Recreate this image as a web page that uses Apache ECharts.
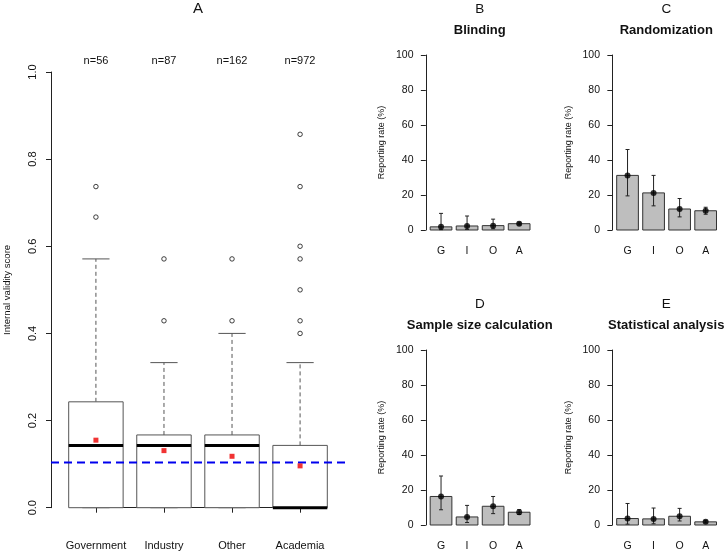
<!DOCTYPE html>
<html>
<head>
<meta charset="utf-8">
<script src="https://cdn.jsdelivr.net/npm/echarts@6/dist/echarts.min.js"></script>
<style>
  html, body { margin: 0; padding: 0; background: #fff; }
  #chart { width: 727px; height: 553px; }
</style>
</head>
<body>
<div id="chart"></div>
<script>
// panel A: internal validity score by funder
const groupsA = ["Government", "Industry", "Other", "Academia"];
const nCounts = [56, 87, 162, 972];
const boxMin = [0, 0, 0, 0];
const boxQ1 = [0, 0, 0, 0];
const boxMed = [0.143, 0.143, 0.143, 0];
const boxQ3 = [0.243, 0.167, 0.167, 0.143];
const boxMax = [0.571, 0.333, 0.4, 0.333];
const meanScore = [0.155, 0.131, 0.118, 0.096];
const outGov = [0.667, 0.737];
const outInd = [0.429, 0.571];
const outOth = [0.429, 0.571];
const outAca = [0.4, 0.429, 0.5, 0.571, 0.6, 0.737, 0.857];
const refLine = 0.104;

// panels B-E: reporting rates (%) with confidence intervals
const barCats = ["G", "I", "O", "A"];
const blindRate = [1.8, 2.3, 2.5, 3.6];
const blindLo = [0.2, 0.3, 0.7, 2.9];
const blindHi = [9.5, 8.0, 6.2, 4.5];
const randRate = [31.2, 21.2, 12.0, 11.0];
const randLo = [19.5, 13.8, 7.5, 9.0];
const randHi = [46.0, 31.2, 18.0, 13.0];
const sampleRate = [16.3, 4.6, 10.7, 7.3];
const sampleLo = [8.7, 1.4, 6.5, 6.0];
const sampleHi = [28.0, 11.2, 16.3, 8.8];
const statRate = [3.7, 3.5, 5.0, 1.8];
const statLo = [0.5, 0.7, 2.3, 1.2];
const statHi = [12.3, 9.7, 9.5, 2.7];

const FONT = "Liberation Sans";
const INK = "#111";

const xlimA = [0.34, 4.66];
const barPos = [0.7, 1.9, 3.1, 4.3];
const xlimBar = [-0.016, 4.984];

const boxData = groupsA.map((_, i) => [i + 1, boxMin[i], boxQ1[i], boxMed[i], boxQ3[i], boxMax[i]]);
const outlierData = [outGov, outInd, outOth, outAca].flatMap((vals, i) => vals.map((v) => [i + 1, v]));
const meanData = meanScore.map((v, i) => [i + 1, v]);

function renderBox(params, api) {
  const x = api.value(0);
  const lo = api.value(1), q1 = api.value(2), med = api.value(3), q3 = api.value(4), hi = api.value(5);
  const half = 0.4, cap = 0.2;
  const pt = (a, b) => api.coord([a, b]);
  const grey = "#555";
  const a = pt(x - half, q3), b = pt(x + half, q1);
  return {
    type: "group",
    children: [
      { type: "line", shape: { x1: pt(x, q3)[0], y1: pt(x, q3)[1], x2: pt(x, hi)[0], y2: pt(x, hi)[1] },
        style: { stroke: grey, lineWidth: 1, lineDash: [4, 3] } },
      { type: "line", shape: { x1: pt(x, lo)[0], y1: pt(x, lo)[1], x2: pt(x, q1)[0], y2: pt(x, q1)[1] },
        style: { stroke: grey, lineWidth: 1, lineDash: [4, 3] } },
      { type: "line", shape: { x1: pt(x - cap, hi)[0], y1: pt(x, hi)[1], x2: pt(x + cap, hi)[0], y2: pt(x, hi)[1] },
        style: { stroke: grey, lineWidth: 1 } },
      { type: "line", shape: { x1: pt(x - cap, lo)[0], y1: pt(x, lo)[1], x2: pt(x + cap, lo)[0], y2: pt(x, lo)[1] },
        style: { stroke: grey, lineWidth: 1 } },
      { type: "rect", shape: { x: a[0], y: a[1], width: b[0] - a[0], height: b[1] - a[1] },
        style: { fill: "#fff", stroke: grey, lineWidth: 1 } },
      { type: "line", shape: { x1: a[0], y1: pt(x, med)[1], x2: b[0], y2: pt(x, med)[1] },
        style: { stroke: "#000", lineWidth: 3 } },
    ],
  };
}

function renderBar(params, api) {
  const x = api.value(0), v = api.value(1);
  const p0 = api.coord([x - 0.5, v]);
  const p1 = api.coord([x + 0.5, 0]);
  return {
    type: "rect",
    shape: { x: p0[0], y: p0[1], width: p1[0] - p0[0], height: p1[1] - p0[1] },
    style: { fill: "#bebebe", stroke: "#333", lineWidth: 1 },
  };
}

function renderErr(params, api) {
  const x = api.value(0);
  const lo = api.coord([x, api.value(1)]);
  const hi = api.coord([x, api.value(2)]);
  const c = 2;
  const st = { stroke: "#222", lineWidth: 1 };
  return {
    type: "group",
    children: [
      { type: "line", shape: { x1: lo[0], y1: lo[1], x2: hi[0], y2: hi[1] }, style: st },
      { type: "line", shape: { x1: lo[0] - c, y1: lo[1], x2: lo[0] + c, y2: lo[1] }, style: st },
      { type: "line", shape: { x1: hi[0] - c, y1: hi[1], x2: hi[0] + c, y2: hi[1] }, style: st },
    ],
  };
}

const grids = [
  { left: 51, top: 72, width: 294, height: 435.7 },   // A data
  { left: 96, top: 72, width: 204, height: 435.7 },   // A category axis
];
const xAxes = [
  { gridIndex: 0, type: "value", min: xlimA[0], max: xlimA[1], show: false },
  {
    gridIndex: 1, type: "value", min: 1, max: 4, interval: 1, position: "bottom", offset: 18,
    axisLine: { show: true, lineStyle: { color: "#222", width: 1 } },
    axisTick: { show: true, length: 5, lineStyle: { color: "#222" } },
    axisLabel: { margin: 15, color: INK, fontFamily: FONT, fontSize: 11, formatter: (v) => groupsA[v - 1] || "" },
    splitLine: { show: false },
  },
  {
    gridIndex: 1, type: "value", min: 1, max: 4, interval: 1, position: "top",
    axisLine: { show: false }, axisTick: { show: false }, splitLine: { show: false },
    axisLabel: { margin: 5.5, color: INK, fontFamily: FONT, fontSize: 11, formatter: (v) => "n=" + nCounts[v - 1] },
  },
];
const yAxes = [
  {
    gridIndex: 0, type: "value", min: 0, max: 1, interval: 0.2,
    axisLine: { show: true, lineStyle: { color: "#222", width: 1 } },
    axisTick: { show: true, length: 5, lineStyle: { color: "#222" } },
    axisLabel: { rotate: 90, margin: 13, color: INK, fontFamily: FONT, fontSize: 11, formatter: (v) => v.toFixed(1) },
    splitLine: { show: false },
    name: "Internal validity score", nameLocation: "middle", nameGap: 39,
    nameTextStyle: { color: INK, fontFamily: FONT, fontSize: 9.6 },
  },
  { gridIndex: 1, type: "value", min: 0, max: 1, show: false },
];

const series = [
  {
    type: "custom", xAxisIndex: 0, yAxisIndex: 0, renderItem: renderBox, data: boxData,
    encode: { x: 0, y: [1, 2, 3, 4, 5] }, z: 2, silent: true,
  },
  {
    type: "line", xAxisIndex: 0, yAxisIndex: 0, data: [[xlimA[0], refLine], [xlimA[1], refLine]],
    symbol: "none", lineStyle: { color: "#0000ee", width: 2, type: [8, 5] }, z: 3, silent: true,
  },
  {
    type: "scatter", xAxisIndex: 0, yAxisIndex: 0, data: outlierData, symbol: "circle", symbolSize: 4.5,
    itemStyle: { color: "#fff", borderColor: "#111", borderWidth: 1 }, z: 4, silent: true,
  },
  {
    type: "scatter", xAxisIndex: 0, yAxisIndex: 0, data: meanData, symbol: "rect", symbolSize: 5,
    itemStyle: { color: "#ee0000" }, z: 5, silent: true,
  },
];

const titles = [
  { text: "A", left: 198, top: 1, textAlign: "center", padding: 0,
    textStyle: { fontFamily: FONT, fontSize: 15, fontWeight: "normal", color: INK } },
];

const panels = [
  { letter: "B", name: "Blinding", left: 425.5, top: 55, rate: blindRate, lo: blindLo, hi: blindHi },
  { letter: "C", name: "Randomization", left: 612, top: 55, rate: randRate, lo: randLo, hi: randHi },
  { letter: "D", name: "Sample size calculation", left: 425.5, top: 350, rate: sampleRate, lo: sampleLo, hi: sampleHi },
  { letter: "E", name: "Statistical analysis", left: 612, top: 350, rate: statRate, lo: statLo, hi: statHi },
];

panels.forEach((p) => {
  const gi = grids.length;
  const width = 108.5;
  grids.push({ left: p.left, top: p.top, width, height: 175 });
  const xi = xAxes.length, yi = yAxes.length;
  xAxes.push({
    gridIndex: gi, type: "value", min: xlimBar[0], max: xlimBar[1],
    axisLine: { show: false }, axisTick: { show: false }, splitLine: { show: false },
    axisLabel: {
      customValues: barPos, margin: 15.5, color: INK, fontFamily: FONT, fontSize: 10.5,
      formatter: (v) => {
        let k = 0;
        barPos.forEach((b, j) => { if (Math.abs(b - v) < Math.abs(barPos[k] - v)) k = j; });
        return barCats[k];
      },
    },
  });
  yAxes.push({
    gridIndex: gi, type: "value", min: 0, max: 100, interval: 20,
    axisLine: { show: true, lineStyle: { color: "#222", width: 1 } },
    axisTick: { show: true, length: 5, lineStyle: { color: "#222" } },
    axisLabel: { margin: 12, color: INK, fontFamily: FONT, fontSize: 10.5 },
    splitLine: { show: false },
    name: "Reporting rate (%)", nameLocation: "middle", nameGap: 39,
    nameTextStyle: { color: INK, fontFamily: FONT, fontSize: 9 },
  });
  const cx = p.left + width / 2;
  titles.push({ text: p.letter, left: cx, top: p.top - 53, textAlign: "center", padding: 0,
    textStyle: { fontFamily: FONT, fontSize: 13.5, fontWeight: "normal", color: INK } });
  titles.push({ text: p.name, left: cx, top: p.top - 31.5, textAlign: "center", padding: 0,
    textStyle: { fontFamily: FONT, fontSize: 13, fontWeight: "bold", color: INK } });
  series.push({
    type: "custom", xAxisIndex: xi, yAxisIndex: yi, renderItem: renderBar,
    data: p.rate.map((v, i) => [barPos[i], v]), encode: { x: 0, y: 1 }, z: 2, silent: true,
  });
  series.push({
    type: "custom", xAxisIndex: xi, yAxisIndex: yi, renderItem: renderErr,
    data: p.rate.map((_, i) => [barPos[i], p.lo[i], p.hi[i]]), encode: { x: 0, y: [1, 2] }, z: 3, silent: true,
  });
  series.push({
    type: "scatter", xAxisIndex: xi, yAxisIndex: yi, data: p.rate.map((v, i) => [barPos[i], v]),
    symbol: "circle", symbolSize: 6, itemStyle: { color: "#000" }, z: 4, silent: true,
  });
});

const chart = echarts.init(document.getElementById("chart"), null, { renderer: "canvas" });
chart.setOption({
  animation: false,
  backgroundColor: "#fff",
  title: titles,
  grid: grids,
  xAxis: xAxes,
  yAxis: yAxes,
  series,
});
</script>
</body>
</html>
